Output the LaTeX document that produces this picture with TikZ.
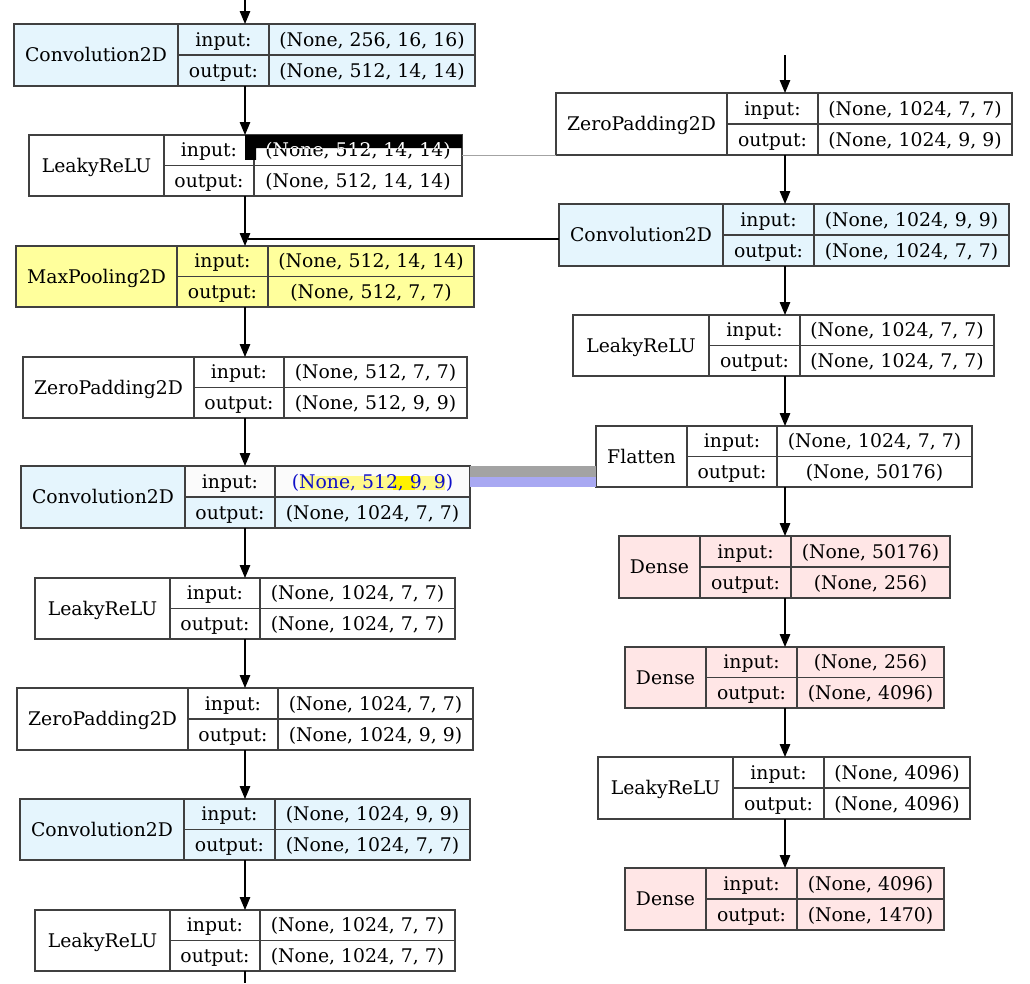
\documentclass[tikz,border=0pt]{standalone}
\usepackage{fontspec}
\setmainfont{DejaVu Serif}
\usetikzlibrary{arrows.meta}
\definecolor{bordc}{HTML}{404040}
\definecolor{convblue}{HTML}{E5F5FD}
\definecolor{poolyellow}{HTML}{FFFF9C}
\definecolor{densepink}{HTML}{FFE6E6}
\definecolor{glitchgray}{HTML}{A3A3A3}
\definecolor{glitchblue}{HTML}{A8A8F2}
\definecolor{invalblue}{HTML}{1010C8}
\tikzset{
  lbl/.style={inner sep=0pt, text height=13.4pt, text depth=0pt, font=\fontsize{18.8}{22}\selectfont},
  arr/.style={draw=black, line width=1.3pt, -{Triangle[length=13pt,width=10.5pt]}},
  plainline/.style={draw=black, line width=1.3pt},
  frame/.style={draw=bordc, line width=1.2pt},
  invalstyle/.style={},
}
\def\PreText{}
\def\CX{245}
% #1 id, #2 x1, #3 xa, #4 xb, #5 x2, #6 y1, #7 y2, #8 fill, #9 name ; \IN, \OUT
\newcommand{\layer}[9]{%
  \pgfmathsetmacro\ym{(#6+#7)/2}%
  \fill[#8] (#2,#6) rectangle (#5,#7);
  \PreText
  \draw[frame] (#2,#6) rectangle (#5,#7) (#3,#6) -- (#3,#7) (#4,#6) -- (#4,#7) (#3,\ym) -- (#5,\ym);
  \node[lbl] (#1-name) at ({(#2+#3)/2},\ym) {#9};
  \node[lbl] (#1-inl) at ({(#3+#4)/2},{(#6+\ym)/2}) {input:};
  \node[lbl] (#1-outl) at ({(#3+#4)/2},{(\ym+#7)/2}) {output:};
  \node[lbl,invalstyle] (#1-inv) at ({(#4+#5)/2},{(#6+\ym)/2}) {\IN};
  \node[lbl] (#1-outv) at ({(#4+#5)/2},{(\ym+#7)/2}) {\OUT};
  \coordinate (#1-top) at (\CX,#6);
  \coordinate (#1-bot) at (\CX,#7);
}
\begin{document}
\begin{tikzpicture}[x=1pt,y=-1pt]
\useasboundingbox[fill=white] (0,0) rectangle (1030,983);

% ---------------- left column ----------------
\def\CX{245}
\def\IN{(None, 256, 16, 16)}\def\OUT{(None, 512, 14, 14)}
\layer{L1}{14}{178}{269}{475}{24}{86}{convblue}{Convolution2D}
\def\IN{(None, 512, 14, 14)}\def\OUT{(None, 512, 14, 14)}
\layer{L2}{29}{164}{254}{462}{135}{196}{white}{LeakyReLU}
\begin{scope}
  \clip (245,135) rectangle (462,148) (245,135) rectangle (256,160);
  \fill[black] (245,135) rectangle (462,160);
  \node[lbl,text=white] at (L2-inv.center) {(None, 512, 14, 14)};
\end{scope}
\def\IN{(None, 512, 14, 14)}\def\OUT{(None, 512, 7, 7)}
\layer{L3}{16}{177}{268}{474}{246}{307}{poolyellow}{MaxPooling2D}
\def\IN{(None, 512, 7, 7)}\def\OUT{(None, 512, 9, 9)}
\layer{L4}{23}{194}{284}{467}{357}{418}{white}{ZeroPadding2D}
\def\IN{(None, 512, 9, 9)}\def\OUT{(None, 1024, 7, 7)}
\def\PreText{\fill[white!97!gray] (185,466) rectangle (470,497);
  \fill[yellow!45] (300,476) rectangle (445,490);
  \fill[yellow] (393,476) rectangle (415,490);}
\tikzset{invalstyle/.style={text=invalblue}}
\layer{L5}{21}{185}{275}{470}{466}{528}{convblue}{Convolution2D}
\def\PreText{}\tikzset{invalstyle/.style={}}
\def\IN{(None, 1024, 7, 7)}\def\OUT{(None, 1024, 7, 7)}
\layer{L6}{35}{170}{260}{455}{578}{639}{white}{LeakyReLU}
\def\IN{(None, 1024, 7, 7)}\def\OUT{(None, 1024, 9, 9)}
\layer{L7}{17}{188}{278}{473}{688}{750}{white}{ZeroPadding2D}
\def\IN{(None, 1024, 9, 9)}\def\OUT{(None, 1024, 7, 7)}
\layer{L8}{20}{184}{275}{470}{799}{860}{convblue}{Convolution2D}
\def\IN{(None, 1024, 7, 7)}\def\OUT{(None, 1024, 7, 7)}
\layer{L9}{35}{170}{260}{455}{910}{971}{white}{LeakyReLU}

% ---------------- right column ----------------
\def\CX{785}
\def\IN{(None, 1024, 7, 7)}\def\OUT{(None, 1024, 9, 9)}
\layer{R1}{556}{727}{818}{1012}{93}{155}{white}{ZeroPadding2D}
\def\IN{(None, 1024, 9, 9)}\def\OUT{(None, 1024, 7, 7)}
\layer{R2}{559}{723}{814}{1009}{204}{266}{convblue}{Convolution2D}
\def\IN{(None, 1024, 7, 7)}\def\OUT{(None, 1024, 7, 7)}
\layer{R3}{573}{709}{800}{994}{315}{376}{white}{LeakyReLU}
\def\IN{(None, 1024, 7, 7)}\def\OUT{(None, 50176)}
\layer{R4}{596}{687}{777}{972}{426}{487}{white}{Flatten}
\def\IN{(None, 50176)}\def\OUT{(None, 256)}
\layer{R5}{619}{700}{791}{950}{536}{598}{densepink}{Dense}
\def\IN{(None, 256)}\def\OUT{(None, 4096)}
\layer{R6}{625}{706}{797}{944}{647}{708}{densepink}{Dense}
\def\IN{(None, 4096)}\def\OUT{(None, 4096)}
\layer{R7}{598}{733}{824}{970}{757}{819}{white}{LeakyReLU}
\def\IN{(None, 4096)}\def\OUT{(None, 1470)}
\layer{R8}{625}{706}{797}{944}{868}{930}{densepink}{Dense}

% ---------------- connectors ----------------
\coordinate (Lstart) at (245,0);
\coordinate (Lend) at (245,983);
\coordinate (Rstart) at (785,55);
\draw[arr] (Lstart) -- (L1-top);
\foreach \a/\b in {L1/L2,L2/L3,L3/L4,L4/L5,L5/L6,L6/L7,L7/L8,L8/L9,
                   R1/R2,R2/R3,R3/R4,R4/R5,R5/R6,R6/R7,R7/R8}
  \draw[arr] (\a-bot) -- (\b-top);
\draw[plainline] (L9-bot) -- (Lend);
\draw[arr] (Rstart) -- (R1-top);

% ---------------- stray marks visible in the picture ----------------
\coordinate (G1) at (248,239);
\coordinate (G2) at (559,239);
\draw[black, line width=2pt] (G1) -- (G2);
\coordinate (G3) at (462,155);
\coordinate (G4) at (556,155);
\draw[glitchgray, line width=1pt] (G3) -- (G4);
\fill[glitchgray] (470,466) rectangle (596,477);
\fill[glitchblue] (470,477) rectangle (596,487);
\end{tikzpicture}
\end{document}
